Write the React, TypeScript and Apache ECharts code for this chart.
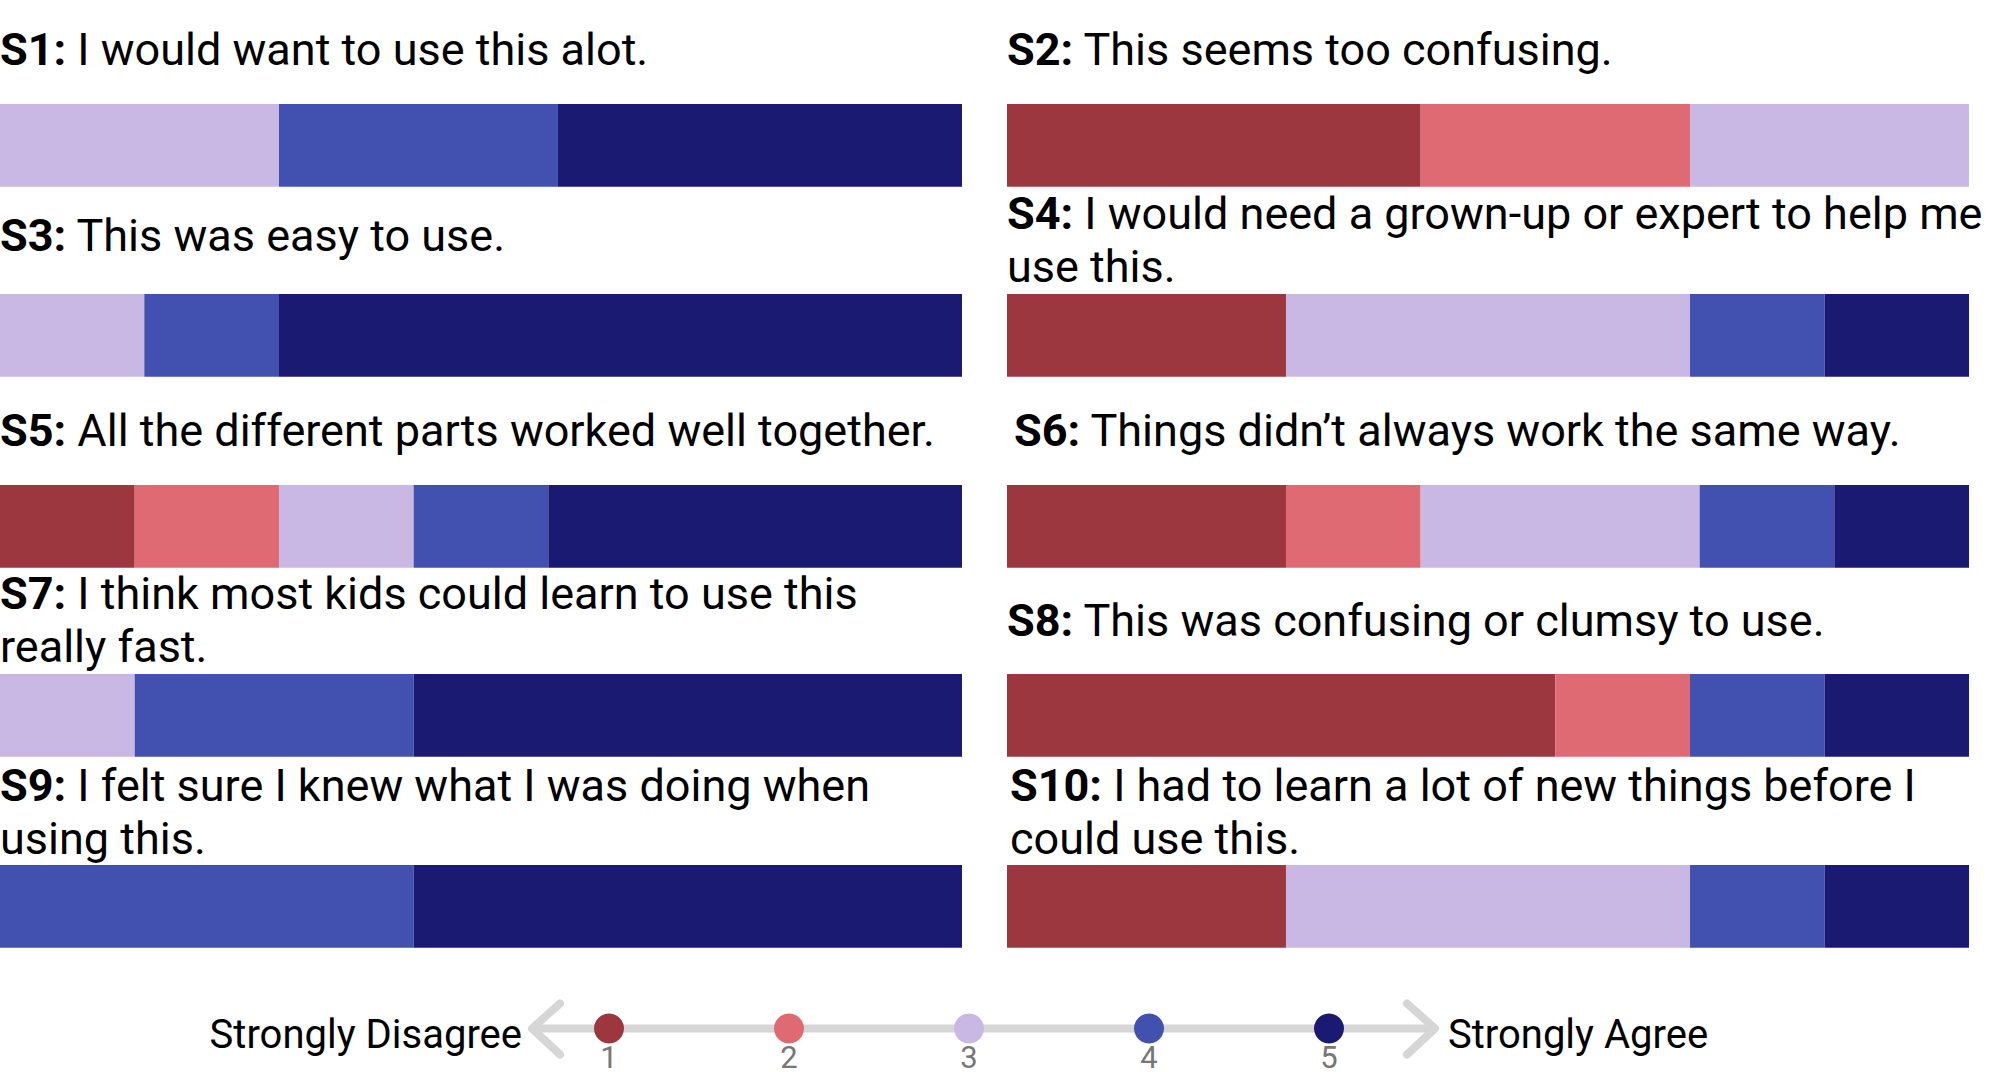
import { useEffect, useRef } from "react";
import * as echarts from "echarts";

// ---- data ----
const statementIds = ["S1", "S2", "S3", "S4", "S5", "S6", "S7", "S8", "S9", "S10"];
const statementTexts = [
  "I would want to use this alot.",
  "This seems too confusing.",
  "This was easy to use.",
  "I would need a grown-up or expert to help me\nuse this.",
  "All the different parts worked well together.",
  "Things didn\u2019t always work the same way.",
  "I think most kids could learn to use this\nreally fast.",
  "This was confusing or clumsy to use.",
  "I felt sure I knew what I was doing when\nusing this.",
  "I had to learn a lot of new things before I\ncould use this.",
];
const likertLevels = [1, 2, 3, 4, 5];
const likertColors = ["#9c3740", "#e06a73", "#c9b8e3", "#4251b0", "#1a1a73"];
// percentage of responses at levels 1..5
const s1 = [0, 0, 29, 29, 42];
const s2 = [43, 28, 29, 0, 0];
const s3 = [0, 0, 15, 14, 71];
const s4 = [29, 0, 42, 14, 15];
const s5 = [14, 15, 14, 14, 43];
const s6 = [29, 14, 29, 14, 14];
const s7 = [0, 0, 14, 29, 57];
const s8 = [57, 14, 0, 14, 15];
const s9 = [0, 0, 0, 43, 57];
const s10 = [29, 0, 42, 14, 15];
const responses = [s1, s2, s3, s4, s5, s6, s7, s8, s9, s10];
const scaleEnds = ["Strongly Disagree", "Strongly Agree"];

// ---- layout ----
const FONT = "Roboto";
const colX = [0, 1007];
const rowTop = [104, 294, 485, 674, 865];
const BAR_W = 962;
const BAR_H = 82.7;
const titleX = [0, 1007, 0, 1007, 0, 1014, 0, 1007, 0, 1010];
const titleBaseline = [65, 65, 250.5, 228.5, 445.5, 445.5, 608.5, 635.5, 800.5, 800.5];
const TITLE_SIZE = 45;
const TITLE_LH = 53;
const LINE_Y = 1028.5;

export default function App() {
  const ref = useRef<HTMLDivElement>(null);
  useEffect(() => {
    const chart = echarts.init(ref.current!, null, { renderer: "svg" });
    const grids: any[] = [];
    const xAxes: any[] = [];
    const yAxes: any[] = [];
    const series: any[] = [];
    responses.forEach((vals, i) => {
      grids.push({
        left: colX[i % 2],
        top: rowTop[Math.floor(i / 2)],
        width: BAR_W,
        height: BAR_H,
        outerBoundsMode: "none",
      });
      xAxes.push({ type: "value", gridIndex: i, min: 0, max: 100, show: false });
      yAxes.push({ type: "category", gridIndex: i, data: [statementIds[i]], show: false });
      vals.forEach((v, k) => {
        series.push({
          type: "bar",
          name: String(likertLevels[k]),
          xAxisIndex: i,
          yAxisIndex: i,
          stack: "st" + i,
          barWidth: "100%",
          data: [v],
          itemStyle: { color: likertColors[k] },
          silent: true,
        });
      });
    });
    // legend scale
    const li = responses.length;
    grids.push({ left: 609, width: 720, top: LINE_Y - 20, height: 40, outerBoundsMode: "none" });
    xAxes.push({
      type: "value",
      gridIndex: li,
      min: 1,
      max: 5,
      interval: 1,
      axisLine: { show: false },
      axisTick: { show: false },
      splitLine: { show: false },
      axisLabel: { color: "#777777", fontSize: 31, fontFamily: FONT, margin: -7 },
    });
    yAxes.push({ type: "value", gridIndex: li, min: -1, max: 1, show: false });
    series.push({
      type: "scatter",
      xAxisIndex: li,
      yAxisIndex: li,
      symbolSize: 30,
      z: 10,
      silent: true,
      data: likertLevels.map((l, k) => ({ value: [l, 0], itemStyle: { color: likertColors[k], opacity: 1 } })),
    });

    const titleRich = {
      b: { fontWeight: "bold", fontSize: TITLE_SIZE, fontFamily: FONT, lineHeight: TITLE_LH, fill: "#000" },
      n: { fontWeight: "normal", fontSize: TITLE_SIZE, fontFamily: FONT, lineHeight: TITLE_LH, fill: "#000" },
    };
    const graphics: any[] = statementTexts.map((t, i) => {
      const lines = t.split("\n");
      const txt = lines
        .map((ln, j) => (j === 0 ? `{b|${statementIds[i]}:}{n| ${ln}}` : `{n|${ln}}`))
        .join("\n");
      return {
        type: "text",
        x: titleX[i],
        y: titleBaseline[i] - (TITLE_LH / 2 + 0.342 * TITLE_SIZE),
        silent: true,
        style: { text: txt, rich: titleRich, verticalAlign: "top", align: "left", fill: "#000" },
      };
    });
    const gray = "#d6d6d6";
    graphics.push(
      {
        type: "line",
        z: 0,
        shape: { x1: 532, y1: LINE_Y, x2: 1435, y2: LINE_Y },
        style: { stroke: gray, lineWidth: 8 },
        silent: true,
      },
      {
        type: "polyline",
        z: 0,
        shape: { points: [[560, LINE_Y - 25], [532, LINE_Y], [560, LINE_Y + 26]] },
        style: { stroke: gray, lineWidth: 8, lineCap: "round", lineJoin: "round", fill: null },
        silent: true,
      },
      {
        type: "polyline",
        z: 0,
        shape: { points: [[1407, LINE_Y - 25], [1435, LINE_Y], [1407, LINE_Y + 26]] },
        style: { stroke: gray, lineWidth: 8, lineCap: "round", lineJoin: "round", fill: null },
        silent: true,
      },
      {
        type: "text",
        x: 522,
        y: 1034,
        silent: true,
        style: { text: scaleEnds[0], fontSize: 40, fontFamily: FONT, fill: "#000", align: "right", verticalAlign: "middle" },
      },
      {
        type: "text",
        x: 1448,
        y: 1034,
        silent: true,
        style: { text: scaleEnds[1], fontSize: 40, fontFamily: FONT, fill: "#000", align: "left", verticalAlign: "middle" },
      }
    );

    chart.setOption({
      animation: false,
      backgroundColor: "#ffffff",
      textStyle: { fontFamily: FONT },
      grid: grids,
      xAxis: xAxes,
      yAxis: yAxes,
      series,
      graphic: { elements: graphics },
    });
    return () => chart.dispose();
  }, []);
  return (
    <div
      ref={ref}
      style={{ position: "fixed", left: 0, top: 0, width: 1989, height: 1072, background: "#fff" }}
    />
  );
}
